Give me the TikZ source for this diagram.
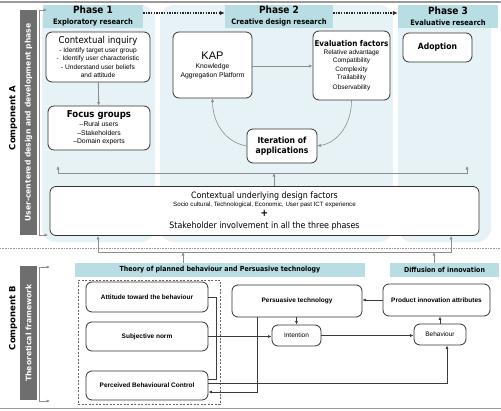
\documentclass[tikz,border=0pt]{standalone}
\usepackage{fontspec}
\setmainfont{Liberation Sans}
\newfontfamily\dvc[FakeStretch=0.9]{DejaVu Sans}
\newfontfamily\dvs{DejaVu Sans}
\usetikzlibrary{arrows.meta}
\newcommand\fsz[2]{\fontsize{#1}{#2}\selectfont}
\definecolor{panelc}{HTML}{E6F2F6}
\definecolor{hdrc}{HTML}{B8DDE2}
\definecolor{barc}{HTML}{6E6E6E}
\definecolor{arrc}{HTML}{8E8E8E}
\definecolor{boxc}{HTML}{333333}
\definecolor{darkc}{HTML}{3A3A3A}
\definecolor{rulec}{HTML}{9A9A9A}
\tikzset{
  hdr/.style={fill=hdrc, draw=none, inner sep=0pt, align=center},
  box/.style={draw=boxc, line width=0.8pt, fill=white, rounded corners=6pt, align=center, inner sep=1pt},
  bar/.style={fill=barc, draw=none, text=white, inner sep=0pt, font=\dvs\bfseries\fsz{7.6}{9}},
  comp/.style={inner sep=0pt, font=\dvs\bfseries\fsz{8.5}{10}},
  garr/.style={draw=arrc, line width=0.9pt, -{Latex[length=3.5pt,width=3.2pt]}},
  garrb/.style={draw=arrc, line width=0.9pt, {Latex[length=3.5pt,width=3.2pt]}-{Latex[length=3.5pt,width=3.2pt]}},
  darr/.style={draw=darkc, line width=0.7pt, -{Latex[length=3.5pt,width=3pt]}},
  dln/.style={draw=darkc, line width=0.7pt},
  dotarr/.style={draw=black!85, line width=1.4pt, dash pattern=on 1.3pt off 1.3pt, -{Latex[length=5pt,width=4.5pt]}},
  lbox/.style={box, font=\bfseries\fsz{6.5}{8}},
}
\begin{document}
\begin{tikzpicture}[x=1pt,y=-1pt]
\useasboundingbox (0,0) rectangle (501,410);
% rules
\draw[rulec, line width=1.6pt] (0,2) -- (501,2);
\draw[rulec, line width=1.6pt] (0,408.5) -- (501,408.5);
\draw[rulec, line width=0.6pt, dash pattern=on 0.8pt off 0.8pt] (0,248) -- (501,248);
% panels
\fill[panelc, rounded corners=14pt] (42,5) rectangle (155,242);
\fill[panelc, rounded corners=14pt] (160,5) rectangle (393,242);
\fill[panelc, rounded corners=14pt] (398,5) rectangle (491,242);
% headers
\node[hdr, minimum width=100pt, minimum height=23pt] (h1) at (93,16.5)
  {{\dvc\bfseries\fsz{10}{11}Phase 1}\\[-1pt]{\dvc\bfseries\fsz{7.5}{9}Exploratory research}};
\node[hdr, minimum width=108pt, minimum height=23pt] (h2) at (279,16.5)
  {{\dvc\bfseries\fsz{10}{11}Phase 2}\\[-1pt]{\dvc\bfseries\fsz{7.5}{9}Creative design research}};
\node[hdr, minimum width=100pt, minimum height=23pt] (h3) at (448,16.5)
  {{\dvc\bfseries\fsz{10}{11}Phase 3}\\[-1pt]{\dvc\bfseries\fsz{7.5}{9}Evaluative research}};
\draw[dotarr] ([yshift=3.5pt]h1.east) -- ([yshift=3.5pt]h2.west);
\draw[dotarr] ([yshift=3.5pt]h2.east) -- ([yshift=3.5pt]h3.west);
% bars and labels
\node[bar, rotate=90, minimum width=225pt, minimum height=17pt] (barA) at (28.5,122.5) {User-centered design and development phase};
\node[bar, rotate=90, minimum width=134pt, minimum height=17pt] (barB) at (28.5,333) {Theoretical framework};
\node[comp, rotate=90] (compA) at (13,118) {Component A};
\node[comp, rotate=90] (compB) at (13,318) {Component B};
\coordinate (a1) at (39,10); \coordinate (a1e) at (47,10);
\coordinate (a2) at (39,235); \coordinate (a2e) at (48,235);
\draw[garrb] (a1e) -- (a1) -- (a2) -- (a2e);
\coordinate (b1) at (39,267); \coordinate (b1e) at (50,267);
\coordinate (b2) at (39,401); \coordinate (b2e) at (50,401);
\draw[garrb] (b1e) -- (b1) -- (b2) -- (b2e);
% phase boxes
\node[box, minimum width=104pt, minimum height=50pt, font=\fsz{6.6}{8.4}] (ci) at (98,57)
  {{\dvc\fsz{9.5}{11}Contextual inquiry}\\[0.5pt]
   - Identify target user group\\
   -\ \ Identify user characteristic\\
   - Understand user beliefs\\
   and attitude};
\node[box, minimum width=102pt, minimum height=44pt, font=\fsz{6.8}{8.6}] (fg) at (99,128)
  {{\dvc\bfseries\fsz{9.5}{11}Focus groups}\\[0pt]
   --Rural users\\ --Stakeholders\\ --Domain experts};
\node[box, minimum width=79pt, minimum height=66pt, font=\fsz{6.8}{9}] (kap) at (212.5,65)
  {{\fsz{11}{12}KAP}\\[0pt] Knowledge\\ Aggregation Platform};
\node[box, minimum width=77pt, minimum height=69pt, font=\fsz{6.5}{8.4}] (ef) at (351.5,65.5)
  {{\dvc\bfseries\fsz{8}{10}Evaluation factors}\\[-0.5pt]
   Relative advantage\\ Compatibility\\ Complexity\\ Trailability\\[1.5pt] Observability};
\node[box, minimum width=70pt, minimum height=34pt, font=\dvc\bfseries\fsz{8.5}{10}] (it) at (282,146)
  {Iteration of\\ applications};
\node[box, minimum width=69pt, minimum height=29pt, font=\dvc\bfseries\fsz{8.5}{10}] (ad) at (437.5,47.5) {Adoption};
\node[box, minimum width=429pt, minimum height=49pt, font=\dvc\fsz{8.8}{10}] (cu) at (264.5,211)
  {Contextual underlying design factors\\[-1.5pt]
   {\rmfamily\fsz{6.2}{7}Socio cultural, Technological, Economic, User past ICT experience}\\[0pt]
   {\bfseries\fsz{10}{11}+}\\[2pt]
   Stakeholder involvement in all the three phases};
\draw[garr] (ci) -- (fg);
\draw[garr] (kap.east |- 0,66) -- (ef.west |- 0,66);
\draw[garr, line width=0.6pt] (ef.south) to[out=-90, in=10] (it.east);
\draw[garr, line width=0.6pt] (it.west) to[out=170, in=-90] (kap.south);
% connector between A pieces
\coordinate (jt) at (274,173);
\coordinate (jl) at (58,173); \coordinate (jlt) at (58,166);
\coordinate (jr) at (467,173); \coordinate (jrt) at (467,166);
\draw[garr] (cu.north -| jt) -- (jt);
\draw[garrb] (jlt) -- (jl) -- (jr) -- (jrt);
% component B headers
\node[hdr, minimum width=290pt, minimum height=14pt, font=\dvc\bfseries\fsz{7}{8}] (htpb) at (220,270)
  {Theory of planned behaviour and Persuasive technology};
\node[hdr, minimum width=109pt, minimum height=14pt, font=\dvc\bfseries\fsz{7}{8}] (hdoi) at (444.5,270)
  {Diffusion of innovation};
\coordinate (kl) at (98,252); \coordinate (kr) at (451,252);
\coordinate (kb) at (183,252); \coordinate (kd) at (434,252);
\draw[garrb] (kl |- cu.south) -- (kl) -- (kr) -- (kr |- cu.south);
\draw[garr] (htpb.north -| kb) -- (kb);
\draw[garr] (hdoi.north -| kd) -- (kd);
% component B boxes
\node[draw=black!60, line width=0.7pt, dash pattern=on 2pt off 1.5pt, minimum width=142pt, minimum height=124pt, inner sep=0pt] (dbox) at (149,342) {};
\node[lbox, minimum width=122pt, minimum height=30pt] (att) at (147,297) {Attitude toward the behaviour};
\node[lbox, minimum width=122pt, minimum height=29pt] (sn) at (147,336.5) {Subjective norm};
\node[lbox, minimum width=122pt, minimum height=29pt] (pbc) at (147,385.5) {Perceived Behavioural Control};
\node[lbox, minimum width=130pt, minimum height=32pt] (pt) at (297,301) {Persuasive technology};
\node[lbox, minimum width=107pt, minimum height=32pt] (pia) at (436.5,300) {Product innovation attributes};
\node[box, minimum width=49pt, minimum height=21pt, font=\fsz{6.5}{8}] (int) at (296.5,335.5) {Intention};
\node[box, minimum width=52pt, minimum height=21pt, font=\fsz{6.5}{8}] (beh) at (440,334.5) {Behaviour};
% component B connectors
\coordinate (bx) at (216,336.5);
\draw[dln] (att.east) -| (bx);
\draw[dln] ([yshift=6.5pt]pbc.east) -| (bx);
\draw[darr] (sn.east) -- (sn.east -| int.west);
\draw[darr] (pt.south -| int.north) -- (int.north);
\draw[darr] (int.east) -- (int.east -| beh.west);
\draw[darr] (beh.north) -- (beh.north |- pia.south);
\draw[darr] (pia.west) -- (pia.west -| pt.east);
\coordinate (bc) at (447,383);
\draw[darr] ([yshift=2.5pt]pbc.east) -- (bc) -- (bc |- beh.south);
\coordinate (pc) at (257,392);
\draw[darr] (pt.south -| pc) -- (pc) -- (pc -| pbc.east);
\end{tikzpicture}
\end{document}
